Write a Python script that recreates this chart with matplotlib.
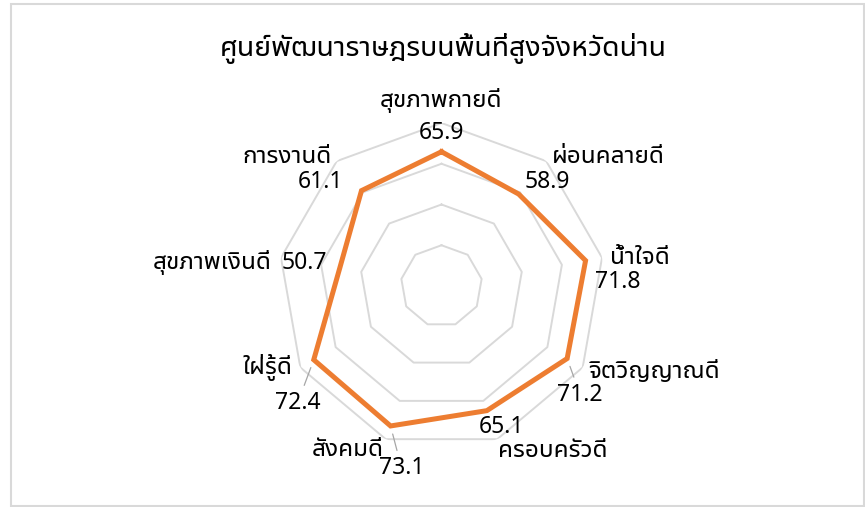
import numpy as np
import matplotlib
matplotlib.use('Agg')
import matplotlib.pyplot as plt
from matplotlib.patches import Rectangle

plt.rcParams['font.family'] = ['Noto Sans Thai UI', 'Noto Sans', 'DejaVu Sans']

title = 'ศูนย์พัฒนาราษฎรบนพื้นที่สูงจังหวัดน่าน'
categories = ['สุขภาพกายดี', 'ผ่อนคลายดี', 'น้ำใจดี', 'จิตวิญญาณดี', 'ครอบครัวดี',
              'สังคมดี', 'ใฝ่รู้ดี', 'สุขภาพเงินดี', 'การงานดี']
values = [65.9, 58.9, 71.8, 71.2, 65.1, 73.1, 72.4, 50.7, 61.1]
rings = [20, 40, 60, 80]

# label offsets in pixels (dx, dy down)
cat_offsets = [(0, -23), (62, -4), (38, 0), (72, 5), (56, 12),
               (-38, 11), (-33, 0), (-69, 5), (-50, -4)]
val_offsets = [(0, -19), (29, -12), (32, 21), (13, 36), (15, 16),
               (11, 42), (-16, 43), (-35, -5), (-41, -9)]
leaders = [3, 5, 6]

W, H = 865, 507
fig = plt.figure(figsize=(W / 100, H / 100), dpi=100)
cx, cy, R = 441.5, 286, 163
ax = fig.add_axes([(cx - R) / W, (H - cy - R) / H, 2 * R / W, 2 * R / H], polar=True)
ax.set_theta_offset(np.pi / 2)
ax.set_theta_direction(-1)
ax.set_ylim(0, rings[-1])
ax.axis('off')

n = len(categories)
theta = np.arange(n) * 2 * np.pi / n
closed = np.append(theta, theta[0])

for r in rings:
    ax.plot(closed, [r] * (n + 1), color='#d9d9d9', lw=1.4, zorder=1)

ax.plot(closed, values + values[:1], color='#ed7d31', lw=3.6,
        solid_joinstyle='miter', zorder=3)

for i in range(n):
    dx, dy = cat_offsets[i]
    ax.annotate(categories[i], xy=(theta[i], rings[-1]), xytext=(dx, -dy),
                textcoords='offset pixels', ha='center', va='center',
                fontsize=17.5, color='#000000', annotation_clip=False)
    dx, dy = val_offsets[i]
    props = None
    if i in leaders:
        props = dict(arrowstyle='-', color='#a6a6a6', lw=0.9, shrinkA=2, shrinkB=6)
    ax.annotate(f'{values[i]:.1f}', xy=(theta[i], values[i]), xytext=(dx, -dy),
                textcoords='offset pixels', ha='center', va='center',
                fontsize=16.5, family=['Noto Sans', 'DejaVu Sans'], color='#000000',
                arrowprops=props, annotation_clip=False, zorder=4)

fig.text(443 / W, 1 - 48 / H, title, ha='center', va='center', fontsize=20.5,
         color='#000000')
fig.patches.append(Rectangle((11 / W, 1 / H), 853 / W, 502 / H, transform=fig.transFigure,
                             fill=False, edgecolor='#d9d9d9', lw=1.5))

fig.savefig('out.png', dpi=100)
